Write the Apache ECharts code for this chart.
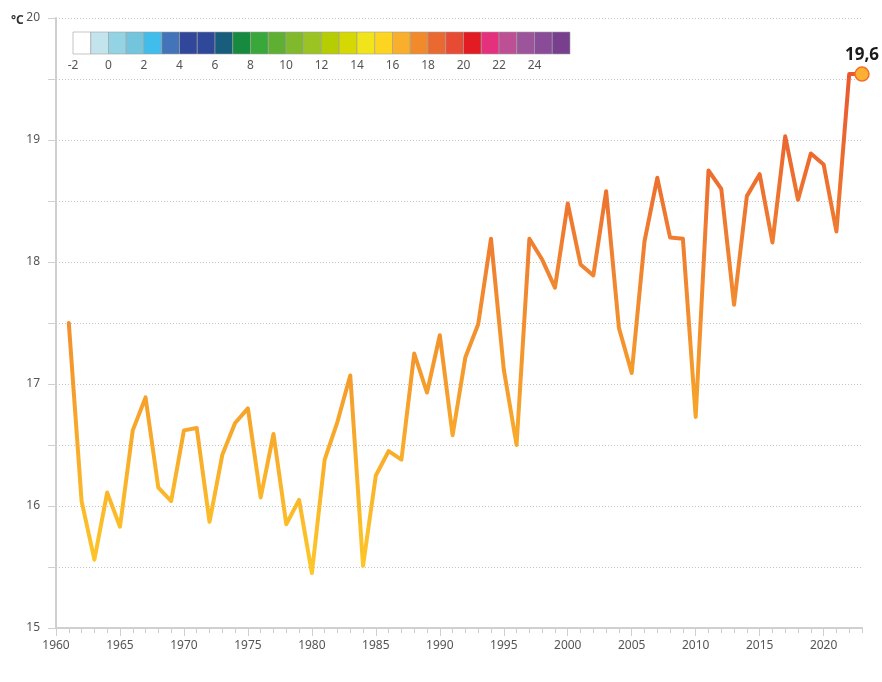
<!DOCTYPE html>
<html><head><meta charset="utf-8">
<script src="https://cdn.jsdelivr.net/npm/echarts@6/dist/echarts.min.js"></script>
<style>html,body{margin:0;padding:0;background:#fff}#c{width:882px;height:682px}</style>
</head><body><div id="c"></div>
<script>
// ---- data ----
const years = [1961,1962,1963,1964,1965,1966,1967,1968,1969,1970,
  1971,1972,1973,1974,1975,1976,1977,1978,1979,1980,
  1981,1982,1983,1984,1985,1986,1987,1988,1989,1990,
  1991,1992,1993,1994,1995,1996,1997,1998,1999,2000,
  2001,2002,2003,2004,2005,2006,2007,2008,2009,2010,
  2011,2012,2013,2014,2015,2016,2017,2018,2019,2020,
  2021,2022,2023];
const temps = [17.50,16.04,15.56,16.11,15.83,16.62,16.89,16.15,16.04,16.62,
  16.64,15.87,16.42,16.68,16.80,16.07,16.59,15.85,16.05,15.45,
  16.38,16.69,17.07,15.51,16.25,16.45,16.38,17.25,16.93,17.40,
  16.58,17.22,17.49,18.19,17.12,16.50,18.19,18.02,17.79,18.48,
  17.98,17.89,18.58,17.46,17.09,18.17,18.69,18.20,18.19,16.73,
  18.75,18.60,17.65,18.54,18.72,18.16,19.03,18.51,18.89,18.80,
  18.25,19.54,19.54];
const highlightLabel = '19,6';
const yTicks = [15,16,17,18,19,20];
const xLabelYears = [1960,1965,1970,1975,1980,1985,1990,1995,2000,2005,2010,2015,2020];
// colour scale legend: each box covers [start, start+1]
const scaleStarts = [-2,-1,0,1,2,3,4,5,6,7,8,9,10,11,12,13,14,15,16,17,18,19,20,21,22,23,24,25];
const scaleColors = ['#ffffff','#c4e4ed','#94d3e3','#72c5dc','#40bdeb','#4373b9','#31489a','#2f4899',
  '#185d7c','#168a3e','#38a83a','#5fb032','#80ba2c','#9bc423','#b7cd03','#d6d804','#f2e41b',
  '#fdd41f','#f9ae2c','#f08a2b','#ea6930','#e84b33','#e31b23','#e5317d','#bd5094','#9c559a',
  '#8a4c98','#773f8e'];
const scaleTickLabels = [-2,0,2,4,6,8,10,12,14,16,18,20,22,24];
// line gradient colours (by temperature 15..20)
const lineColors = ['#ffd324','#fbb92a','#f59d2b','#f08230','#ec672f','#e74b2e'];

const font = "'Noto Sans', 'Open Sans', sans-serif";
const lineData = years.map((y,i)=>[y,temps[i]]);
const last = lineData.length-1;

const chart = echarts.init(document.getElementById('c'), null, {renderer:'canvas'});
chart.setOption({
  animation:false,
  backgroundColor:'#fff',
  title:{text:'°C', left:6, top:10, textStyle:{fontSize:12, fontWeight:'bold', color:'#333', fontFamily:font}},
  grid:[
    {left:56, right:20, top:18, bottom:54},
    {left:73, top:32, width:497, height:22}
  ],
  xAxis:[
    {gridIndex:0, type:'value', min:1960, max:2023, interval:1, position:'bottom',
     axisLine:{show:true, onZero:false, lineStyle:{color:'#cfcfcf', width:2}},
     axisTick:{show:true, length:5, lineStyle:{color:'#cfcfcf'}},
     axisLabel:{show:false}, splitLine:{show:false}},
    {gridIndex:0, type:'value', min:1960, max:2023, interval:5, position:'bottom',
     axisLine:{show:false, onZero:false},
     axisTick:{show:true, length:8, lineStyle:{color:'#cfcfcf'}},
     axisLabel:{show:true, showMaxLabel:false, margin:12, color:'#555', fontSize:12, fontFamily:font,
       formatter:v=> xLabelYears.includes(v)? String(v):''},
     splitLine:{show:false}},
    {gridIndex:1, type:'value', min:-2, max:26, interval:2,
     axisLine:{show:false}, axisTick:{show:false}, splitLine:{show:false},
     axisLabel:{show:true, showMaxLabel:false, margin:6, color:'#555', fontSize:12, fontFamily:font,
       formatter:v=> scaleTickLabels.includes(v)? String(v):''}}
  ],
  yAxis:[
    {gridIndex:0, type:'value', min:15, max:20, interval:0.5,
     axisLine:{show:true, lineStyle:{color:'#cfcfcf', width:2}},
     axisTick:{show:true, length:8, lineStyle:{color:'#cfcfcf'}},
     axisLabel:{margin:16, color:'#555', fontSize:12, fontFamily:font,
       formatter:v=> yTicks.includes(v)? String(v):''},
     splitLine:{show:true, lineStyle:{color:'#c4c4c4', type:[1,2], width:1}}},
    {gridIndex:1, type:'value', min:0, max:1, show:false}
  ],
  visualMap:{show:false, type:'continuous', seriesIndex:0, dimension:1, min:15, max:20,
    inRange:{color:lineColors}},
  series:[
    {type:'line', xAxisIndex:0, yAxisIndex:0, data:lineData, symbol:'none',
     lineStyle:{width:4, cap:'round', join:'round'}, z:3},
    {type:'scatter', xAxisIndex:0, yAxisIndex:0, data:[lineData[last]], symbol:'circle', symbolSize:14,
     itemStyle:{color:'#fbb034', borderColor:'#f0702c', borderWidth:1.5, opacity:1}, z:5,
     label:{show:true, position:'top', distance:3, formatter:highlightLabel,
       fontSize:17, fontWeight:'bold', color:'#1a1a1a', fontFamily:font}},
    {type:'custom', xAxisIndex:2, yAxisIndex:1,
     data:scaleStarts.map((s,i)=>[s, s+1, i]),
     encode:{x:[0,1]},
     renderItem:function(params, api){
       const p0 = api.coord([api.value(0), 1]);
       const p1 = api.coord([api.value(1), 0]);
       const idx = api.value(2);
       return {type:'rect', shape:{x:p0[0], y:p0[1], width:p1[0]-p0[0], height:p1[1]-p0[1]},
         style:{fill:scaleColors[idx], stroke:'#a0a0a0', lineWidth:0.6}};
     }, silent:true}
  ]
});
</script></body></html>
